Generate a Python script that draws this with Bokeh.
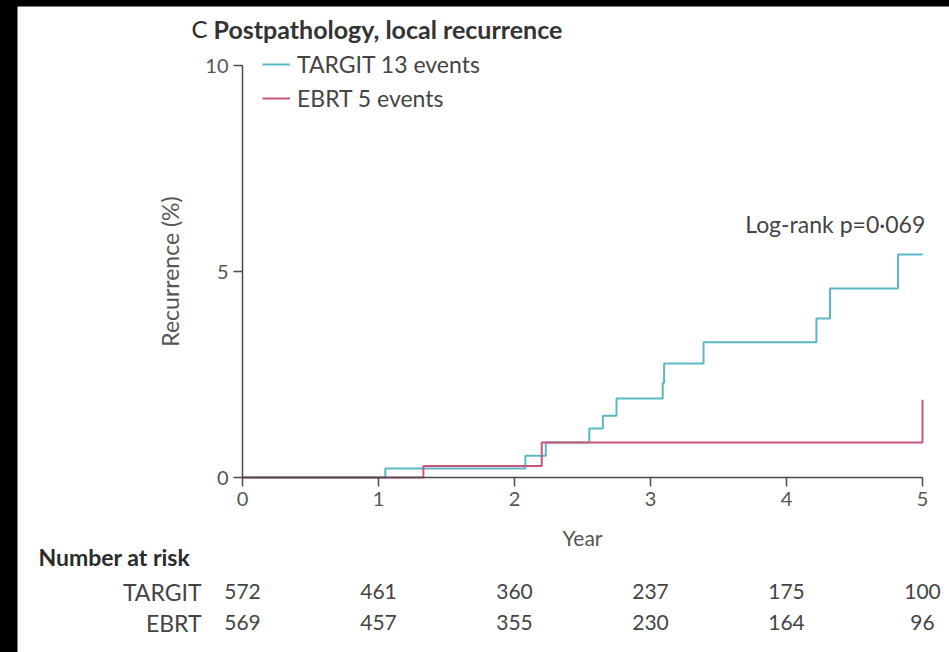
from bokeh.plotting import figure
from bokeh.models import (Range1d, FixedTicker, Legend, LegendItem, Label, LabelSet,
                          ColumnDataSource)
from bokeh.core.properties import value
from bokeh.layouts import column
from bokeh.embed import file_html
from bokeh.resources import INLINE

# ---- data ----
targit_t = [0, 1.05, 2.08, 2.23, 2.55, 2.65, 2.75, 3.09, 3.10, 3.39, 4.22, 4.32, 4.82, 5.0]
targit_y = [0, 0.22, 0.53, 0.85, 1.19, 1.50, 1.92, 2.30, 2.77, 3.28, 3.86, 4.59, 5.41, 5.41]
ebrt_t = [0, 1.33, 2.20, 5.0]
ebrt_y = [0, 0.28, 0.85, 1.89]

years = [0, 1, 2, 3, 4, 5]
y_ticks = [0, 5, 10]
targit_risk = [572, 461, 360, 237, 175, 100]
ebrt_risk = [569, 457, 355, 230, 164, 96]

title_letter = "C"
title_text = "Postpathology, local recurrence"
targit_label = "TARGIT 13 events"
ebrt_label = "EBRT 5 events"
pvalue_text = "Log-rank p=0·069"
risk_title = "Number at risk"
row_labels = ["TARGIT", "EBRT"]

# ---- layout (pixels) ----
W, H = 932, 646            # white panel, placed at (17, 6) in the page
OX, OY = 17, 6
X0_PX, X5_PX = 242, 922     # page x of year 0 and year 5
Y0_PX, Y10_PX = 477, 65     # page y of 0 % and 10 %
sx = (X5_PX - X0_PX) / 5.0
sy = (Y0_PX - Y10_PX) / 10.0
x_start = -(X0_PX - OX) / sx
x_end = x_start + W / sx
y_start = -(OY + H - Y0_PX) / sy
y_end = y_start + H / sy

def scr_x(px):
    return px - OX

def scr_y(py):
    return OY + H - py

FONT = "Lato"
TXT = "#444444"
CYAN = "#5ab8c4"
RED = "#c95579"

p = figure(width=W, height=H, output_backend="svg", toolbar_location=None,
           x_range=Range1d(x_start, x_end), y_range=Range1d(y_start, y_end),
           min_border=0, border_fill_color="white",
           background_fill_color="white")
p.outline_line_color = None
p.margin = (OY, 0, 0, OX)
p.xgrid.visible = False
p.ygrid.visible = False

r1 = p.step(targit_t, targit_y, mode="after", line_color=CYAN, line_width=2)
r2 = p.step(ebrt_t, ebrt_y, mode="after", line_color=RED, line_width=2)

for ax in (p.xaxis[0], p.yaxis[0]):
    ax.fixed_location = 0
    ax.axis_line_color = "#4a4a4a"
    ax.axis_line_width = 1.5
    ax.major_tick_line_color = "#4a4a4a"
    ax.major_tick_line_width = 1.5
    ax.major_tick_in = 0
    ax.major_tick_out = 9
    ax.minor_tick_line_color = None
    ax.major_label_text_font = FONT
    ax.major_label_text_font_size = "20px"
    ax.major_label_text_color = "#555555"
    ax.axis_label_text_font = FONT
    ax.axis_label_text_font_style = "normal"
    ax.axis_label_text_color = "#555555"

p.xaxis.axis_label_text_font_size = "21px"
p.yaxis.axis_label_text_font_size = "23px"
p.xaxis.bounds = (0, 5)
p.yaxis.bounds = (0, 10)
p.xaxis.ticker = FixedTicker(ticks=years)
p.yaxis.ticker = FixedTicker(ticks=y_ticks)
p.xaxis.axis_label = "Year"
p.yaxis.axis_label = "Recurrence (%)"
p.xaxis.axis_label_standoff = 16
p.yaxis.axis_label_standoff = 18
p.xaxis.major_label_standoff = 5
p.yaxis.major_label_standoff = 5

legend = Legend(items=[LegendItem(label=targit_label, renderers=[r1]),
                       LegendItem(label=ebrt_label, renderers=[r2])],
                location=(scr_x(262), scr_y(112)), orientation="vertical",
                padding=0, margin=0, spacing=6, glyph_width=28, glyph_height=24,
                label_height=24, label_standoff=7,
                label_text_font=FONT, label_text_font_size="23px",
                label_text_color=TXT, border_line_color=None,
                background_fill_alpha=0)
p.add_layout(legend)

p.add_layout(Label(x=5.02, y=6.15, text=pvalue_text, text_align="right",
                   text_baseline="middle", text_font=FONT, text_font_size="23px",
                   text_color=TXT))

p.add_layout(Label(x=scr_x(191), y=scr_y(28), x_units="screen", y_units="screen",
                   text=title_letter, text_baseline="middle", text_font=FONT,
                   text_font_size="24px", text_color="#2a2a2a"))
p.add_layout(Label(x=scr_x(213), y=scr_y(28), x_units="screen", y_units="screen",
                   text=title_text, text_baseline="middle", text_font=FONT,
                   text_font_size="25px", text_font_style="bold", text_color="#333333"))

p.add_layout(Label(x=scr_x(38), y=scr_y(556), x_units="screen", y_units="screen",
                   text=risk_title, text_baseline="middle", text_font=FONT,
                   text_font_size="23px", text_font_style="bold", text_color="#2b2b2b"))

row_y = [scr_y(591), scr_y(622)]
for lab, yy in zip(row_labels, row_y):
    p.add_layout(Label(x=scr_x(201), y=yy, x_units="screen", y_units="screen", text=lab,
                       text_align="right", text_baseline="middle", text_font=FONT,
                       text_font_size="23px", text_color=TXT))

src = ColumnDataSource(dict(
    x=years + years,
    y=[row_y[0]] * len(years) + [row_y[1]] * len(years),
    t=[str(v) for v in targit_risk] + [str(v) for v in ebrt_risk]))
p.add_layout(LabelSet(x="x", y="y", text="t", source=src, y_units="screen",
                      text_align="center", text_baseline="middle",
                      text_font=value(FONT), text_font_size=value("21px"),
                      text_color=TXT))

root = column(p, styles={"background-color": "black"}, width=949, height=652)

open("out.html", "w").write(file_html(root, INLINE))
